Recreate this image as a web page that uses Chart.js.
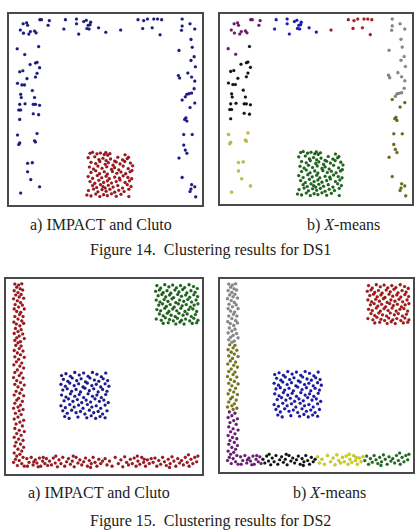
<!DOCTYPE html>
<html>
<head>
<meta charset="utf-8">
<script src="https://cdn.jsdelivr.net/npm/chart.js@4/dist/chart.umd.min.js"></script>
<style>
  body { margin: 0; background: #fff; width: 417px; height: 531px; position: relative; overflow: hidden; }
  .panel { position: absolute; border: 2px solid #4a4a4a; box-sizing: border-box; }
  .panel canvas { display: block; }
  .cap { position: absolute; font-family: 'Liberation Serif', 'Times New Roman', serif; font-size: 16px; line-height: 16px; color: #222; white-space: nowrap; }
</style>
</head>
<body>

<div class="panel" style="left:7px;top:12px;width:197px;height:195px"><canvas id="ds1a" width="193" height="191"></canvas></div>
<div class="panel" style="left:218px;top:12px;width:196px;height:194px"><canvas id="ds1b" width="192" height="190"></canvas></div>
<div class="cap" style="left:30px;top:217px">a) IMPACT and Cluto</div>
<div class="cap" style="left:307px;top:217px">b) <i>X</i>-means</div>
<div class="cap" style="left:90px;top:242px">Figure 14.&nbsp; Clustering results for DS1</div>

<div class="panel" style="left:4px;top:277px;width:200px;height:199px"><canvas id="ds2a" width="196" height="195"></canvas></div>
<div class="panel" style="left:218px;top:277px;width:197px;height:197px"><canvas id="ds2b" width="193" height="193"></canvas></div>
<div class="cap" style="left:28px;top:485px">a) IMPACT and Cluto</div>
<div class="cap" style="left:293px;top:485px">b) <i>X</i>-means</div>
<div class="cap" style="left:90px;top:513px">Figure 15.&nbsp; Clustering results for DS2</div>

<script>
// DS1 point groups (x, y measured from top-left of the plot box)
const ds1TopLeft = [[56,55],[67,52],[70,60],[47,75],[57,85],[74,88],[79,80],[92,78],[97,84],[109,42],[114,42],[139,45],[135,60],[37,135],[61,153]];
const ds1TopMid = [[190,42],[185,72],[225,40],[225,55],[232,88],[248,48],[256,44],[262,60],[258,70],[268,58],[270,50],[265,72],[295,68],[318,82]];
const ds1TopRight = [[365,75],[420,42],[438,45],[450,40],[435,70],[465,68],[470,40],[482,40],[495,42],[490,90]];
const ds1RightUpper = [[560,40],[560,62],[585,55],[558,76],[600,72],[588,105],[592,130],[550,140],[598,160],[588,172],[602,192],[548,220],[552,228],[578,212],[590,225],[600,238],[598,262],[575,280],[582,278],[590,276],[570,288]];
const ds1RightLower = [[560,298],[600,308],[585,322],[572,355],[575,365],[568,360],[565,408],[592,408],[565,442],[570,458],[575,468],[550,483],[560,545],[590,568],[600,575],[588,582],[585,590],[603,607]];
const ds1LeftUpper = [[105,128],[78,185],[95,180],[100,178],[108,195],[45,208],[55,205],[68,230],[95,225],[100,213],[38,245],[52,250],[60,250],[85,268],[48,280],[50,290],[92,290],[45,312],[62,310],[88,312],[95,312],[108,315],[42,330],[48,330],[88,342],[105,345],[45,360]];
const ds1LeftLower = [[38,410],[100,405],[45,435],[42,440],[92,428],[95,432],[70,500],[85,498],[70,527],[80,552],[108,575],[48,595]];
const ds1Square = [
  [268,468],[276,465],[290,470],[301,467],[313,472],[318,466],[324,474],[331,469],[379,473],[390,481],
  [262,482],[283,479],[296,488],[309,484],[319,491],[333,486],[346,493],[356,481],[371,489],[386,485],
  [271,497],[286,501],[299,494],[316,503],[326,498],[341,506],[351,496],[363,502],[378,494],[396,499],[403,508],
  [266,512],[279,518],[293,509],[306,516],[321,511],[336,519],[346,514],[359,521],[373,509],[389,517],[401,523],
  [271,529],[286,524],[298,533],[313,527],[323,534],[339,526],[353,532],[366,528],[381,533],[395,527],
  [262,542],[276,548],[291,539],[305,546],[319,541],[329,549],[346,544],[361,547],[373,540],[388,545],[400,549],
  [268,558],[283,564],[296,554],[311,561],[323,556],[336,563],[351,558],[363,553],[379,561],[393,556],
  [276,571],[289,577],[301,568],[309,574],[316,579],[326,570],[341,576],[356,571],[371,579],[386,568],[398,574],
  [263,587],[279,582],[293,591],[306,584],[319,589],[331,583],[346,592],[359,586],[376,590],[391,583],
  [258,601],[271,604],[286,598],[299,606],[311,600],[323,603],[336,597],[351,605],[366,599],[391,606]
];

// DS2 point groups
const ds2LeftTop = [[30,25],[42,28],[52,24],[36,35],[47,40],[28,46],[55,44],[40,52],[33,60],[50,58],[44,66],[26,72],[58,70],[38,78],[48,84],[31,90],[54,92],[42,98],[28,104],[60,104],[36,112],[49,115],[45,122],[30,128],[56,128],[40,136],[52,142],[27,146],[35,152],[58,150],[46,158],[32,166],[50,170],[40,176],[28,182],[55,184],[44,190],[36,196],[60,198],[30,204],[48,208],[40,212]];
const ds2LeftMid = [[33,220],[50,222],[44,230],[28,236],[56,238],[38,244],[48,250],[30,256],[60,258],[42,264],[35,272],[52,276],[27,282],[46,286],[58,292],[38,298],[30,306],[50,308],[44,316],[26,322],[56,324],[36,332],[48,338],[30,344],[60,346],[40,352],[52,360],[34,366],[46,372],[28,378],[58,380],[42,388],[36,394],[54,398],[30,404],[48,410],[40,416],[26,420],[56,424],[44,428]];
const ds2Corner = [[32,436],[50,440],[40,448],[28,454],[58,458],[46,464],[34,470],[54,476],[30,484],[44,490],[60,494],[36,500],[50,506],[28,512],[42,518],[56,522],[34,528],[48,534],[30,540],[58,544],[40,550],[52,556],[28,562],[46,566],[36,572],[56,576],[32,582],[44,586],[26,592],[52,596],[38,602],[60,604],
  [68,580],[75,592],[82,576],[88,600],[95,584],[100,594],[108,578],[112,604],[118,588],[125,596],[130,580],[70,604],[90,590],[104,606],[120,576],[134,602]];
const ds2BottomA = [[140,588],[146,600],[152,578],[158,594],[165,606],[170,584],[176,596],[182,576],[188,604],[194,590],[200,580],[206,598],[212,588],[218,606],[224,576],[230,594],[236,584],[242,600],[248,590],[254,578],[260,604],[266,586],[272,596],[278,576],[284,592],[290,604],[296,582],[302,596],[308,588],[160,572],[215,572],[270,608]];
const ds2BottomB = [[316,580],[322,600],[330,588],[338,604],[348,576],[358,596],[366,584],[372,606],[378,574],[384,592],[390,600],[396,582],[402,596],[408,578],[414,604],[420,588],[426,598],[432,576],[438,592],[444,604],[450,584],[456,596],[462,580],[418,572],[440,582]];
const ds2BottomC = [[468,592],[474,578],[480,604],[486,586],[492,598],[498,576],[504,590],[510,602],[516,582],[522,596],[528,574],[534,588],[540,604],[546,580],[552,594],[558,586],[564,600],[570,576],[576,592],[582,604],[588,582],[594,596],[600,576],[606,590],[610,572],[520,608],[580,568]];
const ds2UpperSquare = [
  [480,30],[492,38],[505,27],[518,34],[530,28],[542,37],[555,30],[568,36],[582,27],[596,33],[608,39],
  [476,48],[488,44],[500,52],[512,46],[524,54],[537,44],[550,50],[562,42],[575,53],[588,46],[601,51],
  [484,62],[496,58],[508,66],[520,60],[533,68],[546,58],[558,64],[571,60],[584,67],[597,59],[609,65],
  [478,76],[490,82],[503,74],[515,80],[528,72],[540,84],[552,76],[565,80],[578,74],[590,82],[604,76],
  [486,92],[498,88],[510,96],[522,90],[535,98],[548,88],[560,94],[573,90],[586,98],[598,92],[610,88],
  [480,106],[492,110],[505,102],[518,112],[530,104],[543,110],[556,102],[569,112],[581,106],[594,104],[606,112],
  [488,120],[500,126],[513,118],[525,124],[538,128],[550,118],[563,124],[576,120],[589,128],[602,122],
  [478,136],[494,140],[507,132],[520,138],[532,142],[545,134],[558,140],[571,136],[584,142],[597,134],[610,140],
  [500,150],[516,148],[540,152],[553,146],[566,152],[592,150],[606,148]
];
const ds2CenterSquare = [
  [178,316],[192,310],[206,318],[220,306],[234,314],[248,308],[262,318],[276,306],[290,312],[304,320],[318,308],
  [184,328],[198,334],[212,324],[226,332],[240,326],[254,336],[268,324],[282,330],[296,334],[310,326],[324,332],
  [176,344],[190,350],[204,340],[218,348],[232,342],[246,352],[260,340],[274,348],[288,344],[302,352],[316,342],[328,350],
  [182,362],[196,358],[210,366],[224,360],[238,368],[252,356],[266,364],[280,358],[294,368],[308,360],[322,366],
  [178,378],[192,384],[206,374],[220,382],[234,376],[248,386],[262,374],[276,382],[290,378],[304,386],[318,376],
  [186,396],[200,390],[214,398],[228,392],[242,402],[256,394],[270,400],[284,390],[298,398],[312,394],[326,402],
  [176,412],[190,418],[204,408],[218,416],[232,410],[246,420],[260,408],[274,416],[288,412],[302,420],[316,410],
  [182,428],[196,436],[210,426],[224,434],[238,430],[252,438],[266,426],[280,434],[294,430],[308,438],[322,428],
  [188,446],[202,452],[230,448],[258,450],[272,444],[286,452],[300,446],[316,450]
];

const ds1Range = { x: [25, 609], y: [38, 619] };
const ds2Range = { x: [16, 609], y: [23, 615] };

function toPts(arr) {
  return arr.map(p => ({ x: p[0], y: p[1] }));
}

// groups: list of [points, colour]
function makePanel(canvasId, groups, range) {
  const ctx = document.getElementById(canvasId);
  return new Chart(ctx, {
    type: 'scatter',
    data: {
      datasets: groups.map(g => ({
        data: toPts(g[0]),
        backgroundColor: g[1],
        borderColor: 'rgba(0,0,0,0.3)',
        borderWidth: 0.4,
        pointRadius: 1.55,
        clip: false
      }))
    },
    options: {
      responsive: false,
      animation: false,
      layout: { padding: 0 },
      plugins: { legend: { display: false }, tooltip: { enabled: false } },
      scales: {
        x: { type: 'linear', display: false, min: range.x[0], max: range.x[1] },
        y: { type: 'linear', display: false, min: range.y[0], max: range.y[1], reverse: true }
      }
    }
  });
}

const navy = '#1c1c8e';
const darkRed = '#a8141c';

makePanel('ds1a', [
  [ds1TopLeft, navy], [ds1TopMid, navy], [ds1TopRight, navy], [ds1RightUpper, navy],
  [ds1RightLower, navy], [ds1LeftUpper, navy], [ds1LeftLower, navy], [ds1Square, darkRed]
], ds1Range);

makePanel('ds1b', [
  [ds1TopLeft, '#701a72'], [ds1TopMid, '#1a1ac0'], [ds1TopRight, '#b81818'], [ds1RightUpper, '#8a8a8a'],
  [ds1RightLower, '#6e6e12'], [ds1LeftUpper, '#141414'], [ds1LeftLower, '#c8c830'], [ds1Square, '#1a6c1a']
], ds1Range);

makePanel('ds2a', [
  [ds2LeftTop, darkRed], [ds2LeftMid, darkRed], [ds2Corner, darkRed], [ds2BottomA, darkRed],
  [ds2BottomB, darkRed], [ds2BottomC, darkRed], [ds2UpperSquare, '#1a6a1a'], [ds2CenterSquare, '#1a1a9c']
], ds2Range);

makePanel('ds2b', [
  [ds2LeftTop, '#8c8c8c'], [ds2LeftMid, '#7a7a14'], [ds2Corner, '#6e1a78'], [ds2BottomA, '#111111'],
  [ds2BottomB, '#d8d800'], [ds2BottomC, '#1a701a'], [ds2UpperSquare, '#b01818'], [ds2CenterSquare, '#1a1ab4']
], ds2Range);
</script>
</body>
</html>
